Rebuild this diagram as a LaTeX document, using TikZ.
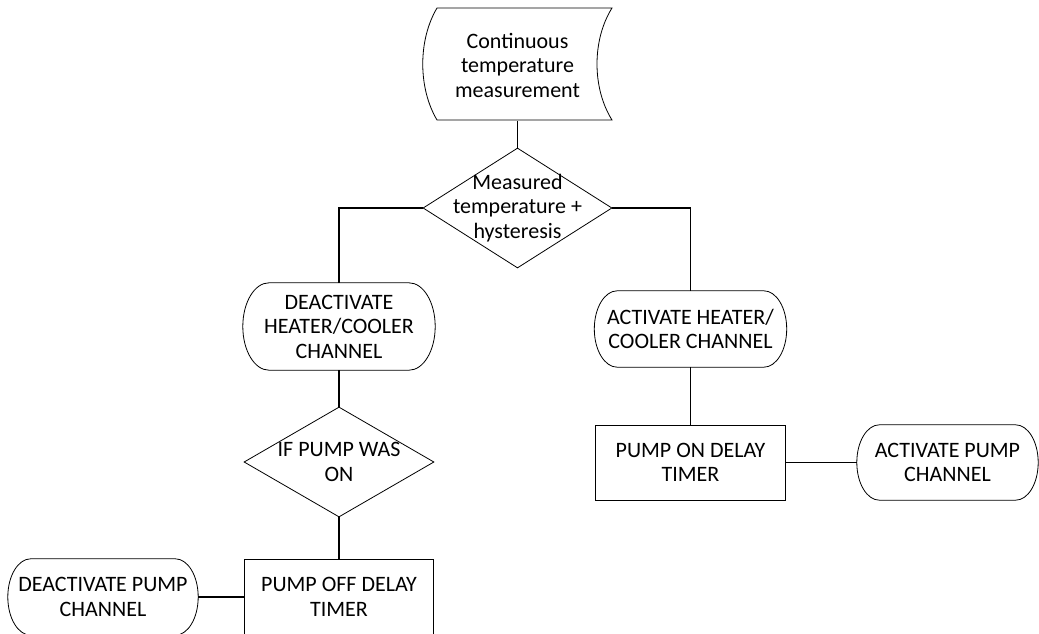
\documentclass[tikz,border=0pt]{standalone}
\usepackage{fontspec}
\setmainfont{Carlito}
\usetikzlibrary{shapes.geometric,calc}
\begin{document}
\begin{tikzpicture}[x=1pt,y=-1pt,
    every node/.style={font=\fontsize{22}{24.5}\selectfont, align=center, inner sep=0pt},
    shape line/.style={line width=0.8pt},
    link/.style={line width=1.1pt},
    term/.style={rectangle},
    block/.style={draw, shape line, rectangle},
    choice/.style={draw, shape line, diamond}]
    \useasboundingbox (0,0) rectangle (1039,634);
    %% measurement (stored data)
    \node[minimum width=189pt, minimum height=112pt] (meas) at (517.5,65) {Continuous\\temperature\\measurement};
    \draw[shape line] (437,8) -- (612,8) .. controls (592,40) and (592,88) .. (612,120)
        -- (437,120) .. controls (418,88) and (418,40) .. (437,8) -- cycle;
    %% decisions
    \node[choice, minimum width=189pt, minimum height=120pt,
        label={center:Measured\\temperature +\\hysteresis}] (hyst) at (517.5,208) {};
    \node[choice, minimum width=190pt, minimum height=110pt,
        label={center:IF PUMP WAS\\ON}] (wason) at (339,462) {};
    %% terminals
    \node[term, minimum width=192pt, minimum height=87pt] (deact) at (339,326.5) {DEACTIVATE\\HEATER/COOLER\\CHANNEL};
    \node[term, minimum width=192pt, minimum height=76pt] (act) at (690.5,329) {ACTIVATE HEATER/\\COOLER CHANNEL};
    \node[term, minimum width=181pt, minimum height=75pt] (actpump) at (947.5,462.5) {ACTIVATE PUMP\\CHANNEL};
    \node[term, minimum width=190pt, minimum height=76pt] (deactpump) at (103,597) {DEACTIVATE PUMP\\CHANNEL};
    \foreach \nd in {deact,act,actpump,deactpump}
        \draw[shape line] let \p1=(\nd.north east), \p2=(\nd.south west),
            \n1={(\y1-\y2)/2}, \n2={0.6*\n1} in
            ([xshift=\n2]\nd.north west) -- ([xshift=-\n2]\nd.north east)
            arc[start angle=90, end angle=-90, x radius=\n2, y radius=\n1]
            -- ([xshift=\n2]\nd.south west)
            arc[start angle=270, end angle=90, x radius=\n2, y radius=\n1] -- cycle;
    %% timers
    \node[block, minimum width=190pt, minimum height=75pt] (pumpon) at (690.5,462.5) {PUMP ON DELAY\\TIMER};
    \node[block, minimum width=189pt, minimum height=76pt] (pumpoff) at (339,597) {PUMP OFF DELAY\\TIMER};
    %% links
    \draw[link] (meas.south) -- (hyst.north);
    \draw[link] (hyst.west) -| (deact.north);
    \draw[link] (hyst.east) -| (act.north);
    \draw[link] (deact.south) -- (wason.north);
    \draw[link] (wason.south) -- (pumpoff.north);
    \draw[link] (pumpoff.west) -- (deactpump.east);
    \draw[link] (act.south) -- (pumpon.north);
    \draw[link] (pumpon.east) -- (actpump.west);
\end{tikzpicture}
\end{document}
